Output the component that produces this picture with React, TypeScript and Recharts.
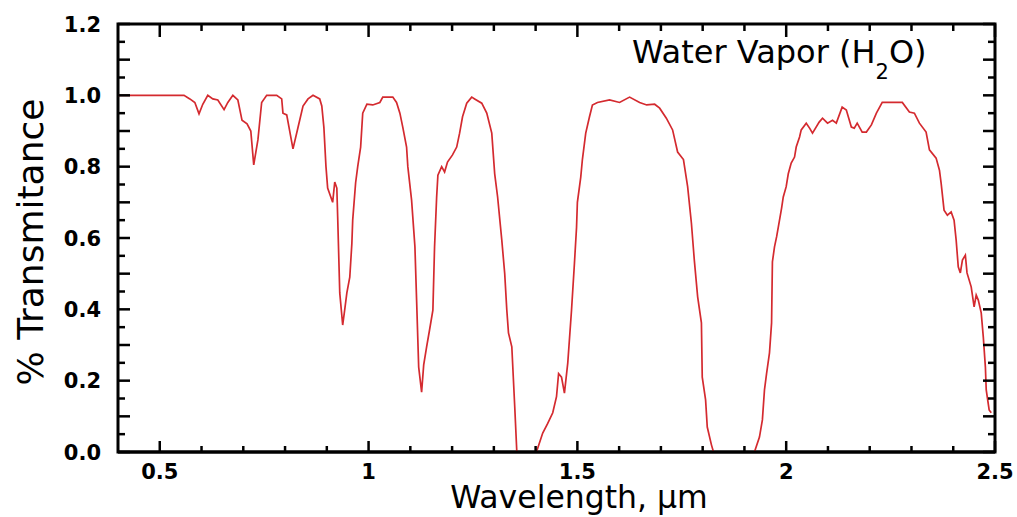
import { LineChart, Line, XAxis, YAxis, ReferenceArea, ReferenceLine } from 'recharts'

const wavelength = [
  0.4, 0.558, 0.572, 0.584, 0.594, 0.603, 0.615, 0.627, 0.639, 0.654, 0.663, 0.675, 0.687, 0.697, 0.709,
  0.718, 0.725, 0.735, 0.744, 0.756, 0.78, 0.792, 0.795, 0.804, 0.819, 0.831, 0.843, 0.855, 0.867, 0.883,
  0.888, 0.893, 0.898, 0.902, 0.914, 0.919, 0.924, 0.926, 0.931, 0.938, 0.943, 0.948, 0.955, 0.96, 0.962,
  0.969, 0.974, 0.981, 0.986, 0.996, 1.01, 1.027, 1.034, 1.058, 1.067, 1.075, 1.082, 1.091, 1.094, 1.103,
  1.111, 1.115, 1.12, 1.127, 1.132, 1.139, 1.146, 1.154, 1.158, 1.163, 1.166, 1.175, 1.182, 1.189, 1.201,
  1.211, 1.218, 1.225, 1.235, 1.247, 1.254, 1.271, 1.283, 1.295, 1.302, 1.309, 1.319, 1.326, 1.331, 1.335,
  1.343, 1.35, 1.355, 1.402, 1.417, 1.429, 1.441, 1.45, 1.455, 1.462, 1.469, 1.477, 1.486, 1.493, 1.498,
  1.5, 1.508, 1.512, 1.52, 1.529, 1.536, 1.548, 1.577, 1.601, 1.625, 1.649, 1.666, 1.685, 1.697, 1.713,
  1.728, 1.74, 1.754, 1.764, 1.773, 1.78, 1.788, 1.797, 1.799, 1.807, 1.811, 1.821, 1.826, 1.924, 1.936,
  1.943, 1.948, 1.953, 1.96, 1.965, 1.967, 1.972, 1.977, 1.981, 1.989, 1.993, 2.0, 2.005, 2.012, 2.02,
  2.024, 2.032, 2.036, 2.048, 2.056, 2.063, 2.079, 2.087, 2.099, 2.111, 2.12, 2.134, 2.144, 2.156, 2.163,
  2.17, 2.182, 2.192, 2.204, 2.216, 2.23, 2.278, 2.295, 2.307, 2.319, 2.335, 2.343, 2.359, 2.367, 2.371,
  2.378, 2.386, 2.395, 2.402, 2.407, 2.412, 2.417, 2.422, 2.429, 2.433, 2.443, 2.45, 2.455, 2.46, 2.467,
  2.472, 2.477, 2.479, 2.486, 2.491,
]
const transmittance = [
  1.0, 1.0, 0.99, 0.98, 0.948, 0.975, 1.0, 0.99, 0.987, 0.96, 0.98, 1.0, 0.987, 0.93, 0.92,
  0.9, 0.805, 0.875, 0.98, 1.0, 1.0, 0.99, 0.95, 0.945, 0.85, 0.91, 0.97, 0.99, 1.0, 0.99,
  0.97, 0.91, 0.8, 0.74, 0.7, 0.757, 0.74, 0.66, 0.446, 0.356, 0.4, 0.446, 0.49, 0.585, 0.65,
  0.755, 0.8, 0.855, 0.95, 0.975, 0.973, 0.98, 0.995, 0.995, 0.98, 0.95, 0.91, 0.855, 0.8, 0.706,
  0.575, 0.426, 0.238, 0.168, 0.244, 0.295, 0.342, 0.398, 0.575, 0.715, 0.776, 0.8, 0.785, 0.813, 0.833,
  0.855, 0.894, 0.94, 0.978, 0.995, 0.99, 0.978, 0.95, 0.894, 0.78, 0.715, 0.594, 0.5, 0.398, 0.334,
  0.295, 0.127, 0.0, 0.0, 0.053, 0.08, 0.11, 0.155, 0.22, 0.21, 0.165, 0.25, 0.398, 0.53, 0.63,
  0.7, 0.77, 0.82, 0.894, 0.94, 0.973, 0.98, 0.987, 0.98, 0.995, 0.98, 0.973, 0.975, 0.964, 0.936,
  0.903, 0.841, 0.82, 0.744, 0.642, 0.538, 0.435, 0.362, 0.21, 0.146, 0.07, 0.02, 0.0, 0.0, 0.042,
  0.09, 0.174, 0.22, 0.278, 0.362, 0.533, 0.575, 0.603, 0.63, 0.684, 0.715, 0.744, 0.78, 0.81, 0.827,
  0.855, 0.883, 0.903, 0.922, 0.908, 0.894, 0.925, 0.936, 0.922, 0.93, 0.922, 0.967, 0.959, 0.911, 0.908,
  0.922, 0.897, 0.897, 0.917, 0.95, 0.98, 0.98, 0.953, 0.95, 0.922, 0.897, 0.847, 0.824, 0.79, 0.754,
  0.678, 0.664, 0.673, 0.65, 0.594, 0.519, 0.502, 0.538, 0.552, 0.502, 0.463, 0.407, 0.44, 0.426, 0.39,
  0.322, 0.238, 0.174, 0.118, 0.11,
]

const xTicks = [0.5, 0.6, 0.7, 0.8, 0.9, 1, 1.1, 1.2, 1.3, 1.4, 1.5, 1.6, 1.7, 1.8, 1.9, 2, 2.1, 2.2, 2.3, 2.4, 2.5]
const xLabelTicks = [0.5, 1, 1.5, 2, 2.5]
const yTicks = [
  0, 0.05, 0.1, 0.15, 0.2, 0.25, 0.3, 0.35, 0.4, 0.45, 0.5, 0.55, 0.6, 0.65, 0.7, 0.75, 0.8, 0.85, 0.9, 0.95,
  1, 1.05, 1.1, 1.15, 1.2,
]
const yLongTicks = [0, 0.1, 0.2, 0.3, 0.4, 0.5, 0.6, 0.7, 0.8, 0.9, 1, 1.1, 1.2]
const yLabelTicks = [0, 0.2, 0.4, 0.6, 0.8, 1, 1.2]

const data = wavelength.map((w, i) => ({ w, t: transmittance[i] }))

const FONT = '"DejaVu Sans", Verdana, sans-serif'
const W = 1017
const H = 517
const M = { top: 24, right: 22, bottom: 0, left: 0 }
const X_AXIS_H = 65
const Y_AXIS_W = 118
const X_DOMAIN: [number, number] = [0.4, 2.5]
const Y_DOMAIN: [number, number] = [0, 1.2]

// one pixel expressed in data units, so tick marks can be given a length in px
const pxX = (X_DOMAIN[1] - X_DOMAIN[0]) / (W - M.left - M.right - Y_AXIS_W)
const pxY = (Y_DOMAIN[1] - Y_DOMAIN[0]) / (H - M.top - M.bottom - X_AXIS_H)

const has = (list: number[], v: number) => list.some((a) => Math.abs(a - v) < 1e-6)

function XLabel({ x, y, payload }: any) {
  return (
    <text x={x} y={y + 27} textAnchor="middle" fontFamily={FONT} fontWeight="bold" fontSize={21} fill="#000">
      {String(payload.value)}
    </text>
  )
}

function YLabel({ x, y, payload }: any) {
  return (
    <text x={x - 17} y={y + 7.5} textAnchor="end" fontFamily={FONT} fontWeight="bold" fontSize={21} fill="#000">
      {Number(payload.value).toFixed(1)}
    </text>
  )
}

const tickLines = [
  ...xTicks.flatMap((v) => {
    const major = has(xLabelTicks, v)
    const bottom = (major ? 11 : 6) * pxY
    const top = (major ? 13 : 7) * pxY
    return [
      { key: `b${v}`, seg: [{ x: v, y: Y_DOMAIN[0] }, { x: v, y: Y_DOMAIN[0] + bottom }] },
      { key: `t${v}`, seg: [{ x: v, y: Y_DOMAIN[1] }, { x: v, y: Y_DOMAIN[1] - top }] },
    ]
  }),
  ...yTicks.flatMap((v) => {
    const len = (has(yLongTicks, v) ? 12 : 7) * pxX
    return [
      { key: `l${v}`, seg: [{ x: X_DOMAIN[0], y: v }, { x: X_DOMAIN[0] + len, y: v }] },
      { key: `r${v}`, seg: [{ x: X_DOMAIN[1], y: v }, { x: X_DOMAIN[1] - len, y: v }] },
    ]
  }),
]

export default function App() {
  return (
    <div style={{ position: 'absolute', left: 0, top: 0, width: W, height: H, background: '#fff' }}>
      <LineChart width={W} height={H} data={data} margin={M}>
        <XAxis
          dataKey="w"
          type="number"
          domain={X_DOMAIN}
          allowDataOverflow
          ticks={xLabelTicks}
          interval={0}
          height={X_AXIS_H}
          tickSize={0}
          tickMargin={0}
          tickLine={false}
          axisLine={false}
          tick={(p: any) => <XLabel {...p} />}
        />
        <YAxis
          type="number"
          domain={Y_DOMAIN}
          allowDataOverflow
          ticks={yLabelTicks}
          interval={0}
          width={Y_AXIS_W}
          tickSize={0}
          tickMargin={0}
          tickLine={false}
          axisLine={false}
          tick={(p: any) => <YLabel {...p} />}
        />
        <Line
          type="linear"
          dataKey="t"
          stroke="#d42a2f"
          strokeWidth={1.7}
          dot={false}
          activeDot={false}
          isAnimationActive={false}
        />
        {tickLines.map((t) => (
          <ReferenceLine key={t.key} segment={t.seg} stroke="#000" strokeWidth={2.5} ifOverflow="visible" />
        ))}
        <ReferenceLine y={Y_DOMAIN[0]} stroke="#000" strokeWidth={3} ifOverflow="visible" />
        <ReferenceArea
          x1={X_DOMAIN[0]}
          x2={X_DOMAIN[1]}
          y1={Y_DOMAIN[0]}
          y2={Y_DOMAIN[1]}
          fill="none"
          fillOpacity={0}
          stroke="#000"
          strokeWidth={3}
          strokeOpacity={1}
          ifOverflow="visible"
        />
      </LineChart>
      <svg width={W} height={H} style={{ position: 'absolute', left: 0, top: 0, pointerEvents: 'none' }}>
        <text x={632} y={63} fontFamily={FONT} fontSize={32} fill="#000">
          Water Vapor (H
          <tspan dy={16} fontSize={21}>2</tspan>
          <tspan dy={-16}>O)</tspan>
        </text>
        <text x={579} y={508} textAnchor="middle" fontFamily={FONT} fontSize={31.5} fill="#000">
          Wavelength, µm
        </text>
        <text
          x={0}
          y={0}
          transform="translate(43 242) rotate(-90)"
          textAnchor="middle"
          fontFamily={FONT}
          fontSize={36}
          fill="#000"
        >
          % Transmitance
        </text>
      </svg>
    </div>
  )
}
